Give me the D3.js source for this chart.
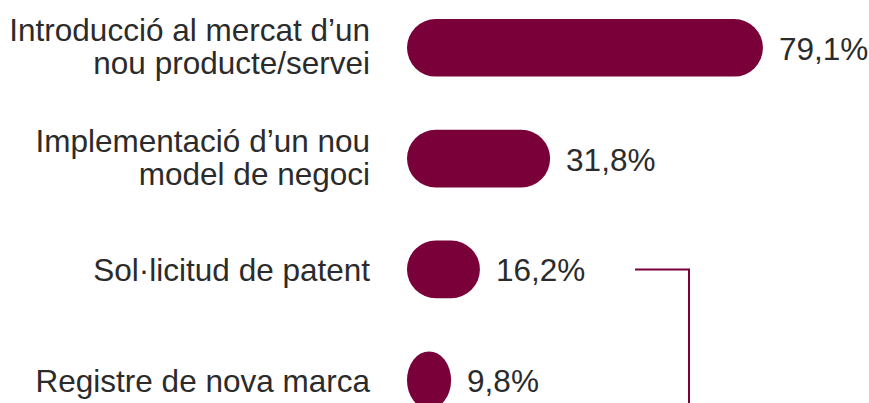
<!DOCTYPE html>
<html>
<head>
<meta charset="utf-8">
<script src="https://cdn.jsdelivr.net/npm/d3@7"></script>
<style>
  html, body { margin: 0; padding: 0; background: #fff; }
  svg { display: block; }
</style>
</head>
<body>
<div id="chart"></div>
<script>
// categories (label lines) and values
const categories = [
  ["Introducció al mercat d\u2019un", "nou producte/servei"],
  ["Implementació d\u2019un nou", "model de negoci"],
  ["Sol·licitud de patent"],
  ["Registre de nova marca"]
];
const values = [79.1, 31.8, 16.2, 9.8];
const valueLabels = ["79,1%", "31,8%", "16,2%", "9,8%"];

const width = 869, height = 403;
const barColor = "#790039";
const textColor = "#2b2b2b";
const font = "'Liberation Sans', Arial, Helvetica, sans-serif";

const data = categories.map((c, i) => ({ id: i, lines: c, value: values[i], label: valueLabels[i] }));

const svg = d3.select("#chart")
  .append("svg")
    .attr("width", width)
    .attr("height", height);

// scales
const x = d3.scaleLinear()
    .domain([0, 100])
    .range([407, 407 + 450]);

const y = d3.scaleBand()
    .domain(data.map(d => d.id))
    .range([19, 409])
    .paddingInner(0.48)
    .paddingOuter(0);

const bw = y.bandwidth();

// bars with rounded ends
svg.append("g")
  .selectAll("rect")
  .data(data)
  .enter()
  .append("rect")
    .attr("x", x(0))
    .attr("y", d => y(d.id))
    .attr("width", d => x(d.value) - x(0))
    .attr("height", bw)
    .attr("rx", d => Math.min(bw / 2, (x(d.value) - x(0)) / 2))
    .attr("ry", bw / 2)
    .attr("fill", barColor);

// category labels, right aligned
const labels = svg.append("g")
  .selectAll("text")
  .data(data)
  .enter()
  .append("text")
    .attr("text-anchor", "end")
    .attr("fill", textColor)
    .style("font-family", font)
    .style("font-size", "31.5px");

labels.each(function(d) {
  const c = y(d.id) + bw / 2;
  const t = d3.select(this);
  if (d.lines.length === 1) {
    t.append("tspan").attr("x", 370).attr("y", c + 12).text(d.lines[0]);
  } else {
    d.lines.forEach((line, j) => {
      t.append("tspan").attr("x", 370).attr("y", c - 7 + j * 33.5).text(line);
    });
  }
});

// value labels
svg.append("g")
  .selectAll("text")
  .data(data)
  .enter()
  .append("text")
    .attr("x", d => x(d.value) + 16)
    .attr("y", d => y(d.id) + bw / 2 + 12)
    .attr("fill", textColor)
    .style("font-family", font)
    .style("font-size", "31.5px")
    .text(d => d.label);

// bracket line grouping the last two items
const by = y(2) + bw / 2;
svg.append("path")
    .attr("d", `M635,${by}H689V${height + 10}`)
    .attr("fill", "none")
    .attr("stroke", barColor)
    .attr("stroke-width", 2);
</script>
</body>
</html>
